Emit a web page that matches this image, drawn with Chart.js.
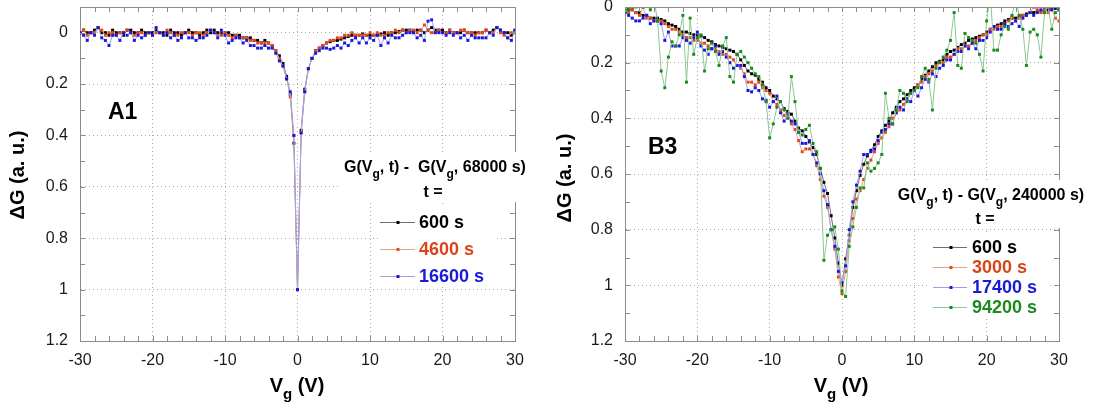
<!DOCTYPE html>
<html>
<head>
<meta charset="utf-8">
<script src="https://cdn.jsdelivr.net/npm/chart.js@4/dist/chart.umd.min.js"></script>
<style>
  body { margin: 0; background: #fff; overflow: hidden; }
  #left { position: absolute; left: 0; top: 0; }
  #right { position: absolute; left: 546px; top: 0; }
</style>
</head>
<body>
<canvas id="left" width="546" height="410"></canvas>
<canvas id="right" width="547" height="410"></canvas>
<script>
// gate voltage, one point every 0.5 V
const vg = [
  -30, -29.5, -29, -28.5, -28, -27.5, -27, -26.5, -26, -25.5,
  -25, -24.5, -24, -23.5, -23, -22.5, -22, -21.5, -21, -20.5,
  -20, -19.5, -19, -18.5, -18, -17.5, -17, -16.5, -16, -15.5,
  -15, -14.5, -14, -13.5, -13, -12.5, -12, -11.5, -11, -10.5,
  -10, -9.5, -9, -8.5, -8, -7.5, -7, -6.5, -6, -5.5,
  -5, -4.5, -4, -3.5, -3, -2.5, -2, -1.5, -1, -0.5,
  0, 0.5, 1, 1.5, 2, 2.5, 3, 3.5, 4, 4.5,
  5, 5.5, 6, 6.5, 7, 7.5, 8, 8.5, 9, 9.5,
  10, 10.5, 11, 11.5, 12, 12.5, 13, 13.5, 14, 14.5,
  15, 15.5, 16, 16.5, 17, 17.5, 18, 18.5, 19, 19.5,
  20, 20.5, 21, 21.5, 22, 22.5, 23, 23.5, 24, 24.5,
  25, 25.5, 26, 26.5, 27, 27.5, 28, 28.5, 29, 29.5,
  30
];

const xTicks = [-30, -20, -10, 0, 10, 20, 30];
const yTicks = [0, 0.2, 0.4, 0.6, 0.8, 1, 1.2];

// panel A1 : G(Vg,t) - G(Vg,68000 s)
const a1_600 = [
  0.00, -0.01, 0.00, 0.00, -0.01, -0.02, 0.00, 0.00, 0.01, -0.01,
  0.00, 0.00, 0.01, -0.01, -0.01, 0.00, 0.00, -0.01, 0.00, 0.00,
  0.00, -0.01, 0.00, 0.00, 0.01, -0.01, 0.00, 0.00, 0.01, 0.00,
  -0.01, 0.00, 0.00, 0.01, 0.00, -0.01, 0.00, -0.01, 0.00, 0.00,
  0.00, 0.00, 0.01, 0.01, 0.01, 0.02, 0.02, 0.02, 0.03, 0.03,
  0.04, 0.03, 0.04, 0.05, 0.07, 0.09, 0.12, 0.17, 0.24, 0.43,
  1.00, 0.38, 0.22, 0.14, 0.10, 0.07, 0.06, 0.05, 0.04, 0.035,
  0.03, 0.03, 0.025, 0.02, 0.015, 0.01, 0.01, 0.01, 0.005, 0.01,
  0.01, 0.01, 0.01, 0.005, 0.00, 0.01, 0.00, 0.00, -0.005, -0.01,
  -0.01, -0.01, 0.00, -0.01, -0.01, 0.00, -0.01, -0.02, -0.01, -0.01,
  -0.01, 0.00, -0.01, 0.00, 0.00, 0.00, -0.01, 0.00, 0.00, 0.00,
  0.00, 0.00, -0.01, 0.00, -0.01, -0.02, -0.01, 0.00, 0.00, 0.01,
  -0.01
];
const a1_4600 = [
  0.00, -0.01, 0.01, 0.00, 0.00, -0.02, -0.01, 0.01, 0.00, 0.00,
  0.01, 0.00, 0.00, -0.01, 0.00, 0.01, 0.00, 0.00, 0.01, 0.00,
  0.01, 0.00, 0.00, 0.01, -0.01, 0.00, 0.01, 0.01, 0.00, 0.00,
  0.00, 0.01, 0.00, 0.00, 0.01, 0.00, -0.01, 0.00, 0.01, 0.01,
  0.00, 0.01, 0.02, 0.01, 0.02, 0.02, 0.02, 0.03, 0.03, 0.04,
  0.04, 0.04, 0.04, 0.05, 0.07, 0.10, 0.13, 0.18, 0.25, 0.40,
  1.00, 0.39, 0.23, 0.14, 0.10, 0.07, 0.06, 0.05, 0.04, 0.03,
  0.03, 0.02, 0.02, 0.01, 0.01, 0.00, 0.01, 0.01, 0.01, 0.01,
  0.00, 0.01, 0.00, 0.01, 0.01, 0.00, 0.00, -0.01, 0.00, -0.01,
  0.00, -0.01, -0.01, 0.00, -0.01, -0.03, -0.01, 0.00, 0.00, -0.01,
  0.00, 0.00, -0.01, 0.00, 0.00, -0.01, -0.01, 0.00, 0.00, 0.01,
  0.00, 0.00, -0.01, 0.00, 0.00, -0.02, 0.00, 0.01, 0.02, 0.00,
  0.00
];
const a1_16600 = [
  0.00, 0.01, 0.03, 0.00, 0.01, -0.02, 0.02, 0.03, 0.05, 0.01,
  0.01, 0.03, 0.00, 0.01, 0.00, 0.03, 0.01, 0.02, 0.01, 0.00,
  0.01, -0.02, 0.00, 0.01, 0.00, 0.02, 0.01, 0.03, 0.02, 0.00,
  0.02, 0.02, 0.03, 0.02, 0.02, 0.01, -0.01, 0.00, 0.02, -0.01,
  0.01, 0.04, 0.03, 0.02, 0.02, 0.04, 0.03, 0.05, 0.05, 0.06,
  0.06, 0.05, 0.06, 0.06, 0.08, 0.11, 0.13, 0.18, 0.23, 0.40,
  1.00, 0.39, 0.23, 0.14, 0.10, 0.08, 0.07, 0.06, 0.06, 0.065,
  0.06, 0.05, 0.06, 0.04, 0.05, 0.03, 0.02, 0.04, 0.02, 0.04,
  0.02, 0.03, 0.01, 0.05, 0.02, 0.04, 0.01, 0.02, 0.02, 0.01,
  0.00, 0.00, 0.00, 0.02, 0.01, 0.03, -0.045, -0.05, 0.00, 0.00,
  0.00, 0.01, 0.00, 0.01, 0.00, 0.02, 0.01, 0.03, 0.01, 0.02,
  0.02, 0.02, 0.02, 0.00, 0.01, -0.02, -0.01, 0.00, 0.02, 0.03,
  -0.01
];

// panel B3 : G(Vg,t) - G(Vg,240000 s)
const b3_600 = [
  0.01, 0.01, 0.01, 0.02, 0.02, 0.03, 0.03, 0.04, 0.04, 0.04,
  0.045, 0.05, 0.06, 0.065, 0.07, 0.08, 0.09, 0.09, 0.095, 0.10,
  0.10, 0.105, 0.11, 0.12, 0.125, 0.135, 0.14, 0.145, 0.15, 0.155,
  0.16, 0.17, 0.19, 0.21, 0.23, 0.24, 0.245, 0.26, 0.27, 0.29,
  0.30, 0.32, 0.33, 0.34, 0.365, 0.375, 0.385, 0.41, 0.435, 0.445,
  0.465, 0.485, 0.505, 0.53, 0.58, 0.63, 0.67, 0.75, 0.83, 0.92,
  1.00, 0.905, 0.82, 0.72, 0.66, 0.605, 0.565, 0.535, 0.515, 0.495,
  0.465, 0.445, 0.425, 0.41, 0.38, 0.36, 0.34, 0.33, 0.315, 0.30,
  0.29, 0.28, 0.26, 0.245, 0.23, 0.215, 0.20, 0.195, 0.19, 0.17,
  0.16, 0.155, 0.145, 0.135, 0.13, 0.12, 0.115, 0.11, 0.105, 0.10,
  0.09, 0.08, 0.07, 0.065, 0.06, 0.05, 0.045, 0.04, 0.04, 0.035,
  0.03, 0.025, 0.02, 0.02, 0.015, 0.015, 0.01, 0.01, 0.005, 0.005,
  0.00
];
const b3_3000 = [
  0.02, 0.02, 0.01, 0.02, 0.03, 0.00, 0.04, 0.04, 0.05, 0.05,
  0.05, 0.06, 0.07, 0.08, 0.08, 0.09, 0.10, 0.11, 0.11, 0.12,
  0.12, 0.13, 0.13, 0.14, 0.15, 0.15, 0.16, 0.17, 0.17, 0.18,
  0.19, 0.21, 0.22, 0.24, 0.27, 0.27, 0.28, 0.27, 0.29, 0.30,
  0.31, 0.34, 0.35, 0.37, 0.39, 0.39, 0.42, 0.44, 0.48, 0.52,
  0.51, 0.51, 0.53, 0.57, 0.62, 0.68, 0.72, 0.80, 0.87, 0.97,
  1.03, 0.95, 0.84, 0.76, 0.69, 0.66, 0.62, 0.58, 0.55, 0.52,
  0.49, 0.47, 0.45, 0.43, 0.40, 0.38, 0.37, 0.35, 0.33, 0.31,
  0.30, 0.28, 0.27, 0.25, 0.24, 0.23, 0.21, 0.20, 0.20, 0.18,
  0.18, 0.17, 0.15, 0.15, 0.14, 0.14, 0.13, 0.12, 0.11, 0.10,
  0.10, 0.08, 0.08, 0.07, 0.07, 0.06, 0.05, 0.04, 0.05, 0.04,
  0.03, 0.03, 0.02, 0.00, 0.01, 0.02, 0.01, 0.02, 0.01, 0.04,
  0.05
];
const b3_17400 = [
  0.02, 0.03, 0.04, 0.05, 0.05, 0.04, 0.03, 0.06, 0.05, 0.05,
  0.06, 0.12, 0.09, 0.14, 0.14, 0.14, 0.11, 0.12, 0.13, 0.11,
  0.09, 0.14, 0.155, 0.17, 0.15, 0.14, 0.17, 0.16, 0.18, 0.20,
  0.22, 0.21, 0.21, 0.25, 0.30, 0.305, 0.29, 0.30, 0.33, 0.335,
  0.36, 0.34, 0.32, 0.38, 0.41, 0.385, 0.41, 0.42, 0.45, 0.49,
  0.49, 0.48, 0.53, 0.56, 0.60, 0.66, 0.71, 0.80, 0.86, 0.95,
  0.99, 0.93, 0.80, 0.70, 0.64, 0.59, 0.53, 0.53, 0.52, 0.51,
  0.48, 0.45, 0.44, 0.42, 0.42, 0.38, 0.36, 0.37, 0.33, 0.34,
  0.30, 0.32, 0.29, 0.26, 0.27, 0.24, 0.25, 0.22, 0.21, 0.19,
  0.19, 0.17, 0.16, 0.16, 0.14, 0.15, 0.13, 0.15, 0.12, 0.12,
  0.11, 0.09, 0.07, 0.08, 0.08, 0.06, 0.07, 0.06, 0.05, 0.07,
  0.04, 0.03, 0.02, 0.03, 0.02, 0.01, 0.02, 0.00, 0.01, 0.00,
  0.01
];
const b3_94200 = [
  0.02, 0.01, 0.00, 0.00, -0.02, 0.00, -0.03, 0.01, -0.03, 0.05,
  0.23, 0.29, 0.18, 0.125, 0.14, 0.10, 0.03, 0.27, 0.04, 0.17,
  0.11, 0.10, 0.23, 0.15, 0.13, 0.16, 0.21, 0.14, 0.11, 0.25,
  0.27, 0.17, 0.16, 0.18, 0.20, 0.22, 0.24, 0.25, 0.28, 0.34,
  0.47, 0.42, 0.36, 0.34, 0.37, 0.40, 0.25, 0.34, 0.45, 0.46,
  0.44, 0.425, 0.49, 0.52, 0.58, 0.91, 0.82, 0.80, 0.79, 0.87,
  1.02, 1.04, 0.86, 0.79, 0.72, 0.65, 0.65, 0.56, 0.59, 0.58,
  0.56, 0.53, 0.31, 0.40, 0.42, 0.37, 0.30, 0.31, 0.34, 0.31,
  0.30, 0.29, 0.25, 0.22, 0.26, 0.37, 0.22, 0.20, 0.18, 0.155,
  0.12, 0.02, 0.21, 0.22, 0.095, 0.11, 0.12, 0.13, 0.17, 0.23,
  0.05, -0.05, 0.155, 0.155, 0.10, 0.07, 0.08, 0.03, -0.03, 0.03,
  0.08, 0.21, 0.09, 0.08, 0.10, 0.18, 0.02, 0.00, 0.08, 0.02,
  0.01
];

const ff = '"Liberation Sans", Arial, sans-serif';
const BLACK = { marker: '#000000', line: '#6e6e6e', text: '#000000' };
const ORANGE = { marker: '#e2481c', line: '#eda083', text: '#d9441a' };
const BLUE = { marker: '#1717e0', line: '#a0a0ea', text: '#1a1ad6' };
const GREEN = { marker: '#168a1e', line: '#8cc890', text: '#1d8a1f' };

// draws a line of bold text where some parts are subscripts, centred on cx
function richText(ctx, parts, cx, base, size, color) {
  const big = `bold ${size}px ${ff}`;
  const small = `bold ${Math.round(size * 0.75)}px ${ff}`;
  let w = 0;
  parts.forEach(p => { ctx.font = p[1] ? small : big; w += ctx.measureText(p[0]).width; });
  let x = cx - w / 2;
  ctx.fillStyle = color;
  ctx.textAlign = 'left';
  ctx.textBaseline = 'alphabetic';
  parts.forEach(p => {
    ctx.font = p[1] ? small : big;
    ctx.fillText(p[0], x, base + (p[1] ? size * 0.35 : 0));
    x += ctx.measureText(p[0]).width;
  });
}

function makeDeco(cfg) {
  return {
    id: 'deco',
    afterDraw(chart) {
      const ctx = chart.ctx, a = chart.chartArea;
      const xs = chart.scales.x, ys = chart.scales.y;
      ctx.save();

      // top + right frame and the small inward ticks
      ctx.strokeStyle = '#8c8c8c';
      ctx.lineWidth = 1;
      ctx.beginPath();
      ctx.moveTo(a.left, a.top + 0.5);
      ctx.lineTo(a.right + 0.5, a.top + 0.5);
      ctx.lineTo(a.right + 0.5, a.bottom);
      for (let v = -30; v <= 30; v += 2) {
        const px = Math.round(xs.getPixelForValue(v)) + 0.5;
        ctx.moveTo(px, a.bottom); ctx.lineTo(px, a.bottom - 5);
        ctx.moveTo(px, a.top); ctx.lineTo(px, a.top + 5);
      }
      for (let k = 0; k <= 13; k++) {
        const v = 1.2 - k * 0.1;
        if (v < ys.min - 1e-6) break;
        const py = Math.round(ys.getPixelForValue(v)) + 0.5;
        ctx.moveTo(a.left, py); ctx.lineTo(a.left + 5, py);
        ctx.moveTo(a.right, py); ctx.lineTo(a.right - 5, py);
      }
      ctx.stroke();

      // white patches behind the legend
      ctx.fillStyle = '#ffffff';
      cfg.boxes.forEach(b => ctx.fillRect(b[0], b[1], b[2], b[3]));

      // panel tag
      ctx.fillStyle = '#000';
      ctx.font = `bold 23px ${ff}`;
      ctx.textAlign = 'left';
      ctx.fillText(cfg.tag, cfg.tagX, cfg.tagY);

      // axis titles
      ctx.save();
      ctx.translate(cfg.yTitleX, cfg.yTitleY);
      ctx.rotate(-Math.PI / 2);
      ctx.font = `bold 20px ${ff}`;
      ctx.textAlign = 'center';
      ctx.textBaseline = 'middle';
      ctx.fillText('\u0394G (a. u.)', 0, 0);
      ctx.restore();
      richText(ctx, [['V'], ['g', 1], [' (V)']], cfg.xTitleX, 392, 20, '#000');

      // legend
      richText(ctx, cfg.legendTitle, cfg.legendX, cfg.legendY, 16, '#000');
      richText(ctx, [['t =']], cfg.tX, cfg.tY, 16, '#000');
      cfg.series.forEach((s, i) => {
        const y = cfg.entryY[i];
        ctx.strokeStyle = s.style.line;
        ctx.lineWidth = 1;
        ctx.beginPath();
        ctx.moveTo(cfg.lineX[0], y + 0.5);
        ctx.lineTo(cfg.lineX[1], y + 0.5);
        ctx.stroke();
        ctx.fillStyle = s.style.marker;
        ctx.fillRect(cfg.lineX[2] - 1.5, y - 1, 3, 3);
        ctx.fillStyle = s.style.text;
        ctx.font = `bold 18px ${ff}`;
        ctx.textAlign = 'left';
        ctx.textBaseline = 'middle';
        ctx.fillText(s.name, cfg.textX, y + 1);
      });
      ctx.restore();
    }
  };
}

function buildChart(id, series, yMin, padRight, axisW, deco) {
  return new Chart(document.getElementById(id), {
    type: 'line',
    data: {
      datasets: series.map((s, k) => ({
        label: s.name,
        data: vg.map((v, i) => ({ x: v, y: s.values[i] })),
        borderColor: s.style.line,
        backgroundColor: s.style.marker,
        pointBackgroundColor: s.style.marker,
        borderWidth: 1,
        pointStyle: 'rect',
        pointRadius: 2.1,
        pointBorderWidth: 0,
        tension: 0,
        order: series.length - k
      }))
    },
    options: {
      responsive: false,
      animation: false,
      layout: { padding: { top: 7, right: padRight, bottom: 0, left: 0 } },
      plugins: { legend: { display: false }, tooltip: { enabled: false } },
      scales: {
        x: {
          type: 'linear',
          min: -30,
          max: 30,
          afterBuildTicks: sc => { sc.ticks = xTicks.map(v => ({ value: v })); },
          afterFit: sc => { sc.height = 69; sc.paddingLeft = 0; sc.paddingRight = 0; },
          ticks: {
            font: { size: 16, family: ff },
            color: '#1a1a1a',
            padding: 10,
            maxRotation: 0,
            callback: v => String(v)
          },
          grid: { color: '#a8a8a8', drawTicks: false },
          border: { color: '#8c8c8c', dash: [1, 3] }
        },
        y: {
          type: 'linear',
          min: yMin,
          max: 1.2,
          reverse: true,
          afterBuildTicks: sc => { sc.ticks = yTicks.map(v => ({ value: v })); },
          afterFit: sc => { sc.width = axisW; sc.paddingTop = 0; sc.paddingBottom = 0; },
          ticks: {
            font: { size: 16, family: ff },
            color: '#1a1a1a',
            padding: 12,
            callback: v => String(Math.round(v * 10) / 10)
          },
          grid: { color: '#a8a8a8', drawTicks: false },
          border: { color: '#8c8c8c', dash: [1, 3] }
        }
      }
    },
    plugins: [makeDeco(deco)]
  });
}

const seriesA = [
  { name: '600 s', values: a1_600, style: BLACK },
  { name: '4600 s', values: a1_4600, style: ORANGE },
  { name: '16600 s', values: a1_16600, style: BLUE }
];
const seriesB = [
  { name: '600 s', values: b3_600, style: BLACK },
  { name: '3000 s', values: b3_3000, style: ORANGE },
  { name: '17400 s', values: b3_17400, style: BLUE },
  { name: '94200 s', values: b3_94200, style: GREEN }
];

buildChart('left', seriesA, -0.1, 31, 80, {
  series: seriesA,
  boxes: [[340, 152, 194, 50], [378, 205, 116, 82]],
  tag: 'A1', tagX: 108, tagY: 119,
  yTitleX: 18, yTitleY: 175,
  xTitleX: 297,
  legendTitle: [['G(V'], ['g', 1], [', t) -  G(V'], ['g', 1], [', 68000 s)']],
  legendX: 435, legendY: 172,
  tX: 433, tY: 197,
  entryY: [222, 249, 276],
  lineX: [380, 415, 398],
  textX: 419
});

buildChart('right', seriesB, 0, 34, 79, {
  series: seriesB,
  boxes: [[349, 180, 194, 48], [381, 232, 122, 86]],
  tag: 'B3', tagX: 102, tagY: 154,
  yTitleX: 19, yTitleY: 178,
  xTitleX: 295,
  legendTitle: [['G(V'], ['g', 1], [', t) - G(V'], ['g', 1], [', 240000 s)']],
  legendX: 445, legendY: 200,
  tX: 439, tY: 224,
  entryY: [247, 267, 287, 307],
  lineX: [387, 421, 405],
  textX: 426
});
</script>
</body>
</html>
